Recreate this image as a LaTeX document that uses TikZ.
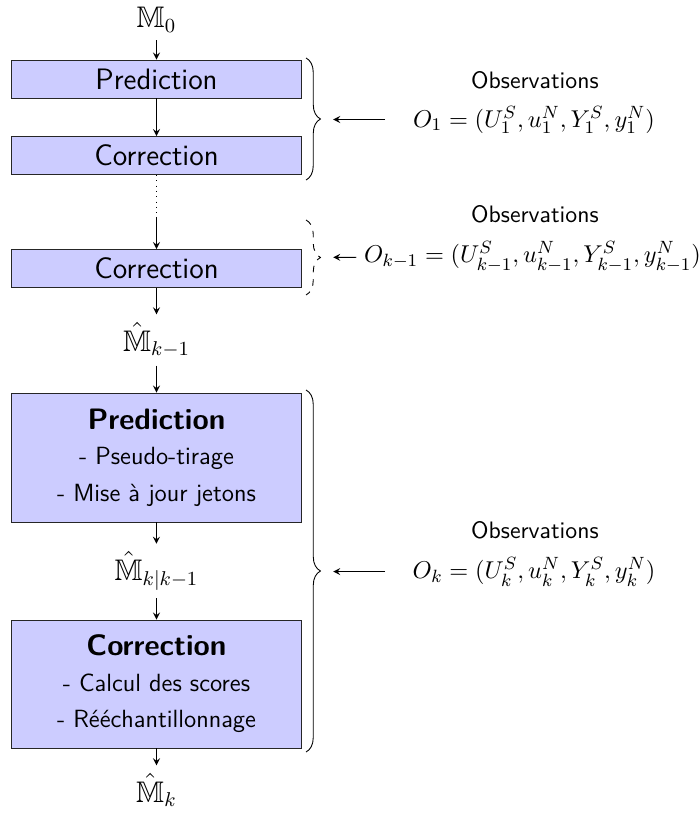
\documentclass[tikz,border=0pt]{standalone}
\usepackage{amsmath,amssymb}
\usepackage{fontspec}
\usetikzlibrary{arrows.meta}
\usetikzlibrary{decorations.pathreplacing}
\newcommand{\detail}{\fontsize{11.2}{16.5}\selectfont}

\begin{document}
\begin{tikzpicture}[>=stealth,
		etape/.style={draw=black!85,fill=blue!20,minimum width=4.6cm,minimum height=0.6cm,inner sep=1pt,font=\sffamily\fontsize{13.3}{16.5}\selectfont,align=center},
		titre/.style={font=\sffamily\fontsize{10.7}{13}\selectfont},
		mesure/.style={font=\fontsize{11.1}{13}\selectfont},
		etat/.style={font=\fontsize{13.4}{16}\selectfont},
		accolade/.style={decorate,decoration={brace,amplitude=6.5pt}}]
			\useasboundingbox (0,0) rectangle (11.055,-12.937);
			% chaine de filtrage
			\node[etat] (m0) at (2.475,-0.31) {$\mathbb{M}_0$};
			\node[etape] (pred1) at (2.475,-1.249) {Prediction};
			\node[etape] (corr1) at (2.475,-2.459) {Correction};
			\coordinate (pts) at (2.475,-3.43);
			\node[etape] (corr2) at (2.475,-4.246) {Correction};
			\node[etat] (mkm) at (2.475,-5.377) {$\hat{\mathbb{M}}_{k-1}$};
			\node[etape,minimum height=2.04cm] (pred) at (2.475,-7.235) {{\bfseries Prediction}\\[-0.7pt] {\detail - Pseudo-tirage}\\[0pt] {\detail - Mise à jour jetons}};
			\node[etat] (mkk) at (2.475,-9.03) {$\hat{\mathbb{M}}_{k|k-1}$};
			\node[etape,minimum height=2.024cm] (corr) at (2.475,-10.817) {{\bfseries Correction}\\[-0.7pt] {\detail - Calcul des scores}\\[0pt] {\detail - Rééchantillonnage}};
			\node[etat] (mk) at (2.475,-12.494) {$\hat{\mathbb{M}}_k$};
			\draw[->] (m0) -- (pred1);
			\draw[->] (pred1) -- (corr1);
			\draw[dotted] (corr1) -- (pts);
			\draw[->] (pts) -- (corr2);
			\draw[->] (corr2) -- (mkm);
			\draw[->] (mkm) -- (pred);
			\draw[->] (pred) -- (mkk);
			\draw[->] (mkk) -- (corr);
			\draw[->] (corr) -- (mk);
			% observations
			\draw[accolade] (4.84,-0.917) -- (4.84,-2.847);
			\draw[accolade,dashed] (4.84,-3.479) -- (4.84,-4.665);
			\draw[accolade] (4.84,-6.168) -- (4.84,-11.893);
			\node[titre] (t1) at (8.46,-1.265) {Observations};
			\node[mesure] (o1) at (8.445,-1.898) {$O_1=(U_1^S,u_1^N,Y_1^S,y_1^N)$};
			\node[titre] (t2) at (8.46,-3.384) {Observations};
			\node[mesure] (o2) at (8.422,-4.064) {$O_{k-1}=(U_{k-1}^S,u_{k-1}^N,Y_{k-1}^S,y_{k-1}^N)$};
			\node[titre] (t3) at (8.46,-8.382) {Observations};
			\node[mesure] (o3) at (8.445,-9.046) {$O_k=(U_k^S,u_k^N,Y_k^S,y_k^N)$};
			\coordinate (d1) at (6.09,-1.89);
			\coordinate (a1) at (5.27,-1.89);
			\coordinate (a2) at (5.27,-4.07);
			\coordinate (d3) at (6.09,-9.04);
			\coordinate (a3) at (5.27,-9.04);
			\draw[->] (d1) -- (a1);
			\draw[->] (o2) -- (a2);
			\draw[->] (d3) -- (a3);
		\end{tikzpicture}
\end{document}
